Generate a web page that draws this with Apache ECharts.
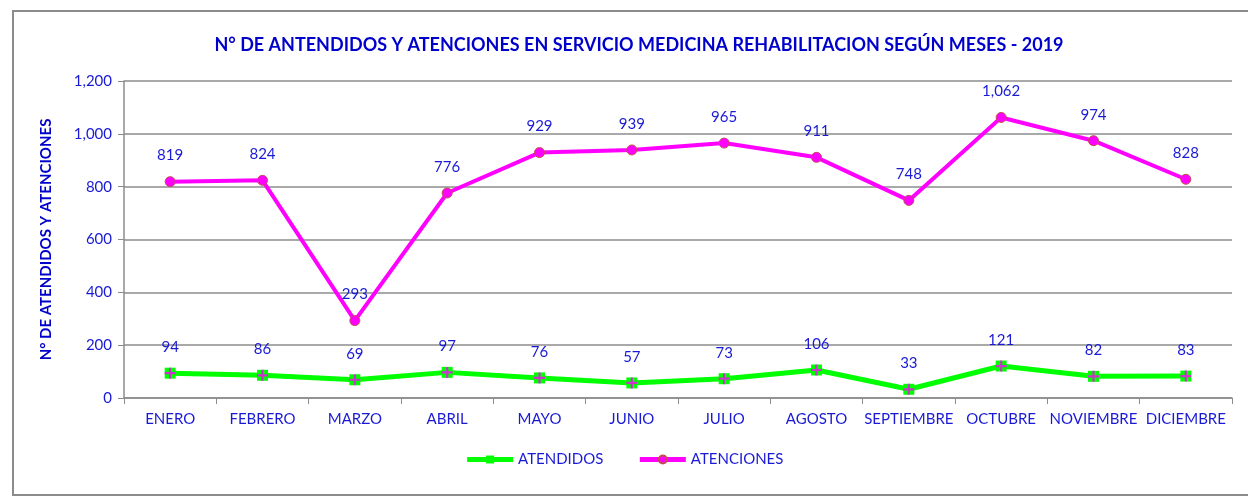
<!DOCTYPE html>
<html>
<head>
<meta charset="utf-8">
<script src="https://cdn.jsdelivr.net/npm/echarts@6/dist/echarts.min.js"></script>
<style>
  html, body { margin: 0; padding: 0; background: #fff; }
  #chart { position: absolute; left: 0; top: 0; width: 1248px; height: 496px; }
  #frame { position: absolute; left: 12px; top: 10px; width: 1250px; height: 482px;
           border: 2px solid #8c8c8c; border-right: none; pointer-events: none; }
</style>
</head>
<body>
<div id="chart"></div>
<div id="frame"></div>
<script>
var meses = ['ENERO', 'FEBRERO', 'MARZO', 'ABRIL', 'MAYO', 'JUNIO', 'JULIO',
             'AGOSTO', 'SEPTIEMBRE', 'OCTUBRE', 'NOVIEMBRE', 'DICIEMBRE'];
var atendidos = [94, 86, 69, 97, 76, 57, 73, 106, 33, 121, 82, 83];
var atenciones = [819, 824, 293, 776, 929, 939, 965, 911, 748, 1062, 974, 828];
var yTicks = { min: 0, max: 1200, interval: 200 };

var azul = '#1a1ad6';
var fuente = 'Lato';

function miles(v) {
    return Number(v).toLocaleString('en-US');
}

var chart = echarts.init(document.getElementById('chart'));
chart.setOption({
    animation: false,
    textStyle: { fontFamily: fuente },
    title: {
        text: 'N° DE ANTENDIDOS Y ATENCIONES EN SERVICIO MEDICINA REHABILITACION SEGÚN MESES - 2019',
        left: 634, top: 31, textAlign: 'center',
        textStyle: { color: '#0000cc', fontSize: 18, fontWeight: 'bold', fontFamily: fuente }
    },
    grid: { left: 124, right: 16, top: 81, bottom: 98 },
    legend: {
        data: ['ATENDIDOS', 'ATENCIONES'],
        bottom: 24, left: 'center',
        itemWidth: 46, itemHeight: 10, itemGap: 34,
        lineStyle: { width: 5 },
        textStyle: { color: azul, fontSize: 15, fontFamily: fuente }
    },
    xAxis: {
        type: 'category',
        data: meses,
        boundaryGap: true,
        axisLine: { lineStyle: { color: '#8c8c8c', width: 1.5 } },
        axisTick: { show: true, length: 6, lineStyle: { color: '#8c8c8c' } },
        axisLabel: { color: azul, fontSize: 15, margin: 14, interval: 0 }
    },
    yAxis: {
        type: 'value',
        min: yTicks.min, max: yTicks.max, interval: yTicks.interval,
        name: 'N° DE ATENDIDOS Y ATENCIONES',
        nameLocation: 'middle', nameGap: 70, nameRotate: 90,
        nameTextStyle: { color: '#0000cc', fontSize: 15, fontWeight: 'bold', fontFamily: fuente },
        axisLine: { show: true, lineStyle: { color: '#8c8c8c', width: 1.5 } },
        axisTick: { show: true, length: 6, lineStyle: { color: '#8c8c8c' } },
        axisLabel: { color: azul, fontSize: 15, margin: 12, formatter: miles },
        splitLine: { lineStyle: { color: '#8c8c8c', width: 1.5 } }
    },
    series: [
        {
            name: 'ATENDIDOS',
            type: 'line',
            data: atendidos,
            symbol: 'rect', symbolSize: 11,
            itemStyle: { color: '#00ff00' },
            lineStyle: { color: '#00ff00', width: 5 },
            label: { show: true, position: 'top', distance: 13, color: azul, fontSize: 15 },
            z: 3
        },
        {
            name: 'ATENDIDOS_cruz',
            type: 'scatter',
            data: atendidos,
            symbol: 'path://M4,0 H6 V4 H10 V6 H6 V10 H4 V6 H0 V4 H4 Z',
            symbolSize: 11,
            itemStyle: { color: '#ff00ff' },
            silent: true,
            z: 4
        },
        {
            name: 'ATENCIONES',
            type: 'line',
            data: atenciones,
            symbol: 'circle', symbolSize: 10,
            itemStyle: { color: '#ff00ff', borderColor: '#c0504d', borderWidth: 1 },
            lineStyle: { color: '#ff00ff', width: 4 },
            label: { show: true, position: 'top', distance: 13, color: azul, fontSize: 15, formatter: function (p) { return miles(p.value); } },
            z: 3
        }
    ]
});
</script>
</body>
</html>
